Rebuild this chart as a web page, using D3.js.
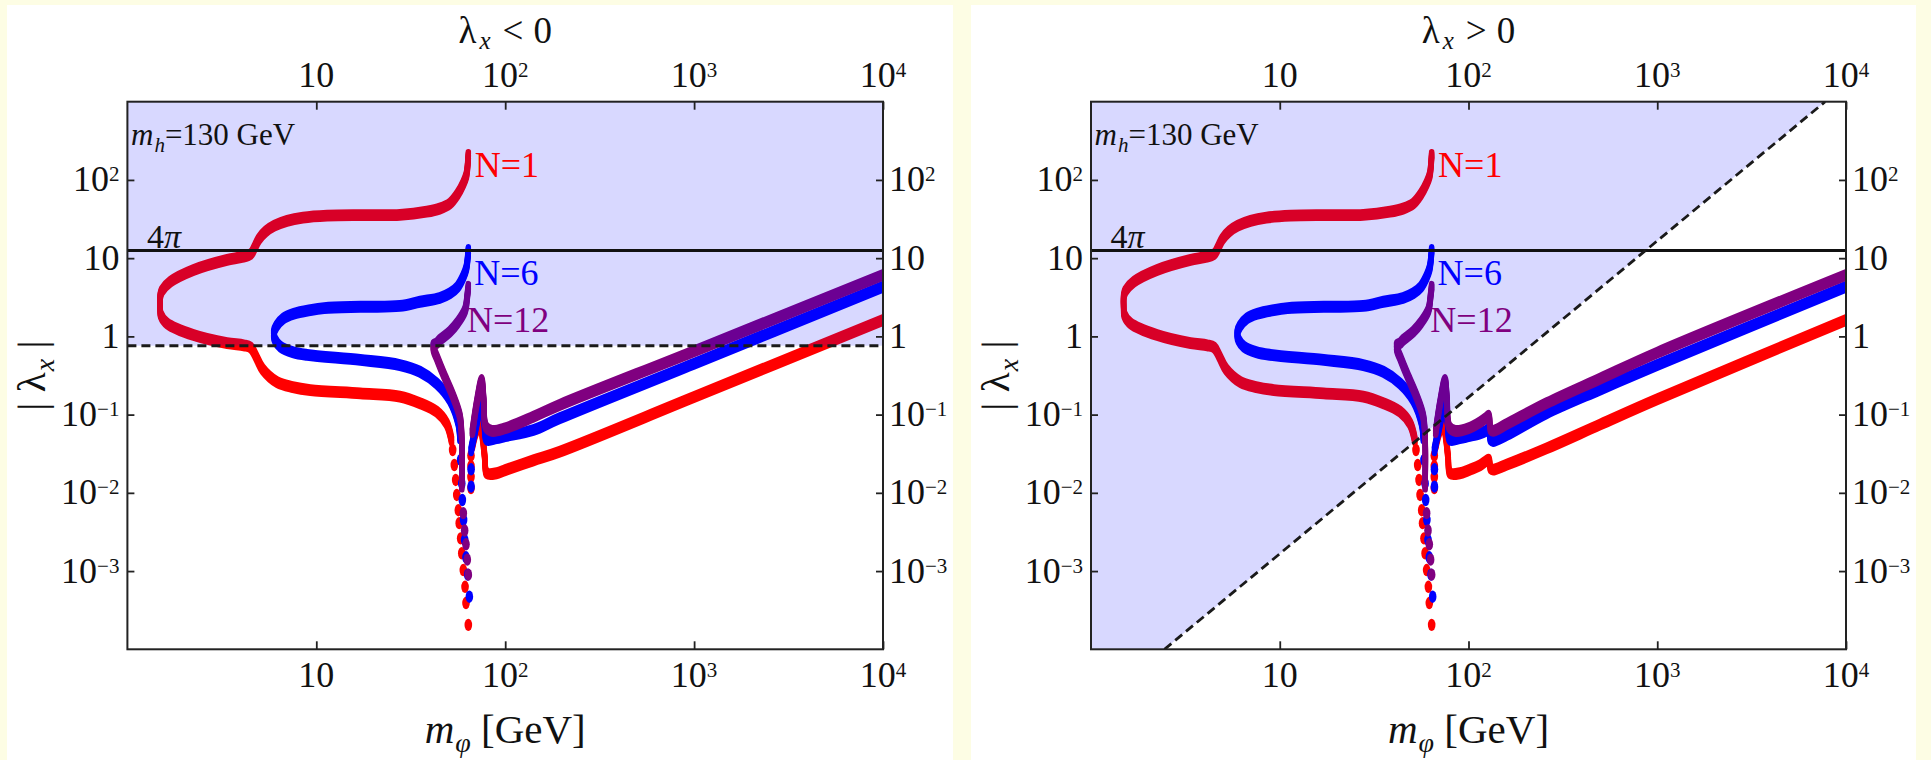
<!DOCTYPE html>
<html><head><meta charset="utf-8">
<script src="https://cdn.jsdelivr.net/npm/d3@7"></script>
<style>
body{margin:0;background:#fdfde4;}
svg{display:block;}
</style>
</head><body>
<svg id="chart" width="1931" height="760"></svg>
<script>
// ---------- data ----------
const xTicks = [10, 100, 1000, 10000];
const xTickLabels = [["10",""],["10","2"],["10","3"],["10","4"]];
const yTicks = [1e-3, 1e-2, 1e-1, 1, 10, 100];
const yTickLabels = [["10","\u22123"],["10","\u22122"],["10","\u22121"],["1",""],["10",""],["10","2"]];
const panelSigns = ["<", ">"];
const fourPi = 4 * Math.PI;
const lambdaDashed = 0.76;           // left panel dashed bound
const diagM = [2.45, 7750];          // right panel diagonal bound (m)
const diagL = [1e-4, 1e3];           // right panel diagonal bound (lambda)

// N=1 (red)
const redMain = [[63.8,208],[63.2,150],[62.3,115],[60,90],[56,66],[51,50],[45,43],[38.4,39.3],[27.7,35.8],[18,35.5],[11.4,35],[8.5,33],[7.0,30],[6.0,26],[5.4,22],[4.96,17.5],[4.7,13.5],[4.5,11.3],[4.0,10.3],[3.37,9.5],[2.24,7.06],[1.69,5],[1.52,3.8],[1.49,3.2],[1.49,2.4],[1.5,1.9],[1.62,1.47],[2.24,1.04],[3.37,0.82],[4.13,0.77],[4.5,0.72],[4.8,0.55],[5.2,0.38],[6.2,0.26],[7.5,0.225],[9.3,0.206],[17.1,0.187],[27.7,0.17],[35.4,0.14],[43.4,0.109],[49,0.077],[52,0.047]];
const redDots = [[52.7,0.0353],[53.8,0.0227],[54.7,0.0146],[55.4,0.0094],[56.5,0.0060],[57.1,0.0041],[58.1,0.00262],[58.9,0.00169],[60.0,0.00103],[61.3,0.00063],[62.0,0.00039],[63.8,0.000205],[65.9,0.0115],[65.9,0.016],[65.9,0.022],[65.9,0.03]];
const redRightL = [[67,0.04],[70,0.06],[73.6,0.074],[76,0.05],[78,0.028],[80,0.0178],[90,0.0178],[100,0.0195],[141,0.026],[194,0.0336],[1000,0.168],[10000,1.62]];
const redRightR = [[67,0.04],[70,0.06],[73.6,0.074],[76,0.05],[78,0.028],[80,0.0178],[90,0.0178],[100,0.0195],[115,0.0225],[124,0.0255],[128,0.0265],[131,0.0205],[135,0.0198],[160,0.023],[259,0.037],[500,0.075],[1000,0.157],[10000,1.62]];
// N=6 (blue)
const blueMain = [[63.8,12.7],[63.3,10],[62.3,7.5],[60,5.8],[56,4.3],[51,3.55],[45,3.1],[35.4,2.77],[27.7,2.45],[17.1,2.39],[11,2.3],[9.3,2.17],[7.6,1.95],[6.7,1.7],[6.15,1.35],[5.95,1.1],[6.05,0.9],[6.45,0.74],[7.5,0.63],[8.93,0.58],[17.1,0.5],[27.7,0.43],[35.4,0.353],[43.4,0.25],[51,0.154],[56.5,0.078],[57.6,0.05]];
const blueDots = [[58.1,0.0263],[58.9,0.0132],[59.3,0.0081],[60.2,0.0045],[61.0,0.0025],[62.0,0.0015],[63.3,0.0009],[64.6,0.00047],[66,0.012],[66,0.02]];
const blueRightL = [[66,0.035],[70,0.07],[75,0.14],[77.5,0.08],[79.8,0.048],[90,0.05],[100,0.053],[141,0.0636],[194,0.0897],[1000,0.448],[10000,4.3]];
const blueRightR = [[66,0.035],[70,0.07],[75,0.14],[77.5,0.08],[79.8,0.048],[90,0.05],[100,0.053],[115,0.0575],[124,0.062],[128,0.065],[131,0.048],[135,0.046],[160,0.055],[259,0.104],[500,0.21],[1000,0.43],[10000,4.3]];
// N=12 (purple)
const purpleMain = [[63.8,4.3],[63.0,3.3],[61.3,2.17],[56,1.5],[51,1.15],[45,0.9],[43.4,0.817],[41.7,0.776],[41.7,0.7],[44,0.5],[47,0.337],[53.1,0.17],[57.6,0.094],[58.9,0.048],[58.9,0.012]];
const purpleDots = [[60.0,0.0055],[61.0,0.0033],[62.0,0.0022],[63.0,0.0014],[63.8,0.0009]];
const purpleRightL = [[67,0.06],[71,0.15],[75,0.277],[77,0.15],[79,0.07],[85,0.062],[100,0.067],[141,0.094],[194,0.133],[1000,0.647],[10000,6.1]];
const purpleRightR = [[67,0.06],[71,0.15],[75,0.277],[77,0.15],[79,0.07],[85,0.062],[100,0.067],[115,0.08],[124,0.091],[128,0.097],[131,0.065],[135,0.062],[160,0.076],[259,0.14],[500,0.29],[1000,0.62],[10000,6.1]];

const curves = [
  {name:"N=1",  color:"#ff0000", main:redMain,    dots:redDots,    right:[redRightL, redRightR],       label:[69,109]},
  {name:"N=6",  color:"#0000ff", main:blueMain,   dots:blueDots,   right:[blueRightL, blueRightR],     label:[68.6,4.53]},
  {name:"N=12", color:"#800080", main:purpleMain, dots:purpleDots, right:[purpleRightL, purpleRightR], label:[62.8,1.14]}
];

// ---------- drawing ----------
const FONT = "'Liberation Serif','Times New Roman','DejaVu Serif',serif";
const svg = d3.select("#chart");
svg.append("rect").attr("width",1931).attr("height",760).attr("fill","#fdfde4");

const panels = [
  {ox:0,   white:[7,5,946,760],   x0:127.4, x1:883,  sign:panelSigns[0], kind:"left"},
  {ox:964, white:[971,5,945,760], x0:1091,  x1:1846, sign:panelSigns[1], kind:"right"}
];
const yTop = 101.7, yBot = 649.3;
const shade = "rgba(0,0,255,0.153)";

function txt(g, x, y, size) {
  return g.append("text").attr("x",x).attr("y",y).attr("font-family",FONT)
    .attr("font-size",size).attr("fill","#111");
}
function supText(g, x, y, parts, anchor, size, supSize, supDy) {
  const t = txt(g, x, y, size).attr("text-anchor",anchor);
  t.append("tspan").text(parts[0]);
  if (parts[1]) t.append("tspan").attr("dy",supDy).attr("font-size",supSize).text(parts[1]);
  return t;
}

panels.forEach((p, pi) => {
  const g = svg.append("g");
  g.append("rect").attr("x",p.white[0]).attr("y",p.white[1]).attr("width",p.white[2]).attr("height",p.white[3]).attr("fill","#ffffff");

  const x = d3.scaleLog().domain([1,1e4]).range([p.x0,p.x1]);
  const y = d3.scaleLog().domain([1e-4,1e3]).range([yBot,yTop]);

  const clipId = "clip"+pi;
  g.append("clipPath").attr("id",clipId).append("rect")
    .attr("x",p.x0).attr("y",yTop).attr("width",p.x1-p.x0).attr("height",yBot-yTop);
  const plot = g.append("g").attr("clip-path","url(#"+clipId+")");

  const line = d3.line().x(d=>x(d[0])).y(d=>y(d[1])).curve(d3.curveCatmullRom.alpha(0.5));
  const offsets = [-3.2,-1.6,0,1.6,3.2];

  curves.forEach(c => {
    const right = p.kind === "left" ? c.right[0] : c.right[1];
    [c.main, right].forEach(seg => {
      offsets.forEach(dy => {
        plot.append("path").attr("d",line(seg)).attr("transform","translate(0,"+dy+")")
          .attr("fill","none").attr("stroke",c.color).attr("stroke-width",5.5)
          .attr("stroke-linecap","round").attr("stroke-linejoin","round");
      });
    });
    plot.selectAll(null).data(c.dots).enter().append("ellipse")
      .attr("cx",d=>x(d[0])).attr("cy",d=>y(d[1])).attr("rx",3.8).attr("ry",6.2).attr("fill",c.color);
  });

  // shaded excluded region (drawn on top, semi-transparent)
  if (p.kind === "left") {
    plot.append("rect").attr("x",p.x0).attr("y",yTop).attr("width",p.x1-p.x0)
      .attr("height",y(lambdaDashed)-yTop).attr("fill",shade);
  } else {
    const poly = [[1,1e3],[diagM[1],diagL[1]],[diagM[0],diagL[0]],[1,1e-4]];
    plot.append("path").attr("d", d3.line().x(d=>x(d[0])).y(d=>y(d[1]))(poly)+"Z").attr("fill",shade);
  }

  // 4 pi line and bounds
  plot.append("line").attr("x1",p.x0).attr("x2",p.x1).attr("y1",y(fourPi)).attr("y2",y(fourPi))
    .attr("stroke","#111").attr("stroke-width",3);
  if (p.kind === "left") {
    plot.append("line").attr("x1",p.x0).attr("x2",p.x1).attr("y1",y(lambdaDashed)).attr("y2",y(lambdaDashed))
      .attr("stroke","#1a1a1a").attr("stroke-width",3).attr("stroke-dasharray","9,5");
  } else {
    plot.append("line").attr("x1",x(diagM[0])).attr("y1",y(diagL[0])).attr("x2",x(diagM[1])).attr("y2",y(diagL[1]))
      .attr("stroke","#1a1a1a").attr("stroke-width",2.8).attr("stroke-dasharray","9,5");
  }

  // axes (ticks inward)
  const mk = (axis, tr) => {
    const a = g.append("g").attr("transform",tr).call(axis);
    a.select(".domain").remove();
    a.selectAll("line").attr("stroke","#222").attr("stroke-width",1.8);
    a.selectAll("text").remove();
  };
  mk(d3.axisBottom(x).tickValues(xTicks).tickSize(-8).tickFormat(""), "translate(0,"+yBot+")");
  mk(d3.axisTop(x).tickValues(xTicks).tickSize(-8).tickFormat(""), "translate(0,"+yTop+")");
  mk(d3.axisLeft(y).tickValues(yTicks).tickSize(-7).tickFormat(""), "translate("+p.x0+",0)");
  mk(d3.axisRight(y).tickValues(yTicks).tickSize(-7).tickFormat(""), "translate("+p.x1+",0)");
  g.append("rect").attr("x",p.x0).attr("y",yTop).attr("width",p.x1-p.x0).attr("height",yBot-yTop)
    .attr("fill","none").attr("stroke","#222").attr("stroke-width",2);

  // tick labels
  xTicks.forEach((v,i) => {
    supText(g, x(v), 87, xTickLabels[i], "middle", 36, 21, -10);
    supText(g, x(v), 687, xTickLabels[i], "middle", 36, 21, -10);
  });
  yTicks.forEach((v,i) => {
    supText(g, p.x0-8, y(v)+11.5, yTickLabels[i], "end", 36, 21, -10);
    supText(g, p.x1+6, y(v)+11.5, yTickLabels[i], "start", 36, 21, -10);
  });

  // title
  const cx = (p.x0+p.x1)/2;
  const tt = txt(g, cx, 43, 37).attr("text-anchor","middle");
  tt.append("tspan").text("\u03bb");
  tt.append("tspan").attr("dx",3).attr("dy",6).attr("font-size",25).attr("font-style","italic").text("x");
  tt.append("tspan").attr("dx",12).attr("dy",-6).text(p.sign);
  tt.append("tspan").attr("dx",10).text("0");

  // x axis label
  const xl = txt(g, cx, 743, 41).attr("text-anchor","middle");
  xl.append("tspan").attr("font-style","italic").text("m");
  xl.append("tspan").attr("dx",1).attr("dy",9).attr("font-size",28).attr("font-style","italic").text("\u03c6");
  xl.append("tspan").attr("dy",-9).text(" [GeV]");

  // y axis label
  const yl = g.append("text").attr("transform","translate("+(p.ox+45)+","+((yTop+yBot)/2)+") rotate(-90)")
    .attr("text-anchor","middle").attr("font-family",FONT).attr("font-size",41).attr("fill","#111");
  yl.append("tspan").text("| \u03bb");
  yl.append("tspan").attr("dx",1).attr("dy",9).attr("font-size",28).attr("font-style","italic").text("x");
  yl.append("tspan").attr("dy",-9).text(" |");

  // annotations
  const mh = txt(g, x(1.045), y(279), 31);
  mh.append("tspan").attr("font-style","italic").text("m");
  mh.append("tspan").attr("dx",1).attr("dy",7).attr("font-size",21).attr("font-style","italic").text("h");
  mh.append("tspan").attr("dy",-7).text("=130 GeV");

  const fp = txt(g, x(1.27), y(13.5), 34);
  fp.append("tspan").text("4");
  fp.append("tspan").attr("font-style","italic").text("\u03c0");

  curves.forEach(c => {
    txt(g, x(c.label[0]), y(c.label[1]), 36).attr("fill",c.color).text(c.name);
  });
});
</script>
</body></html>
